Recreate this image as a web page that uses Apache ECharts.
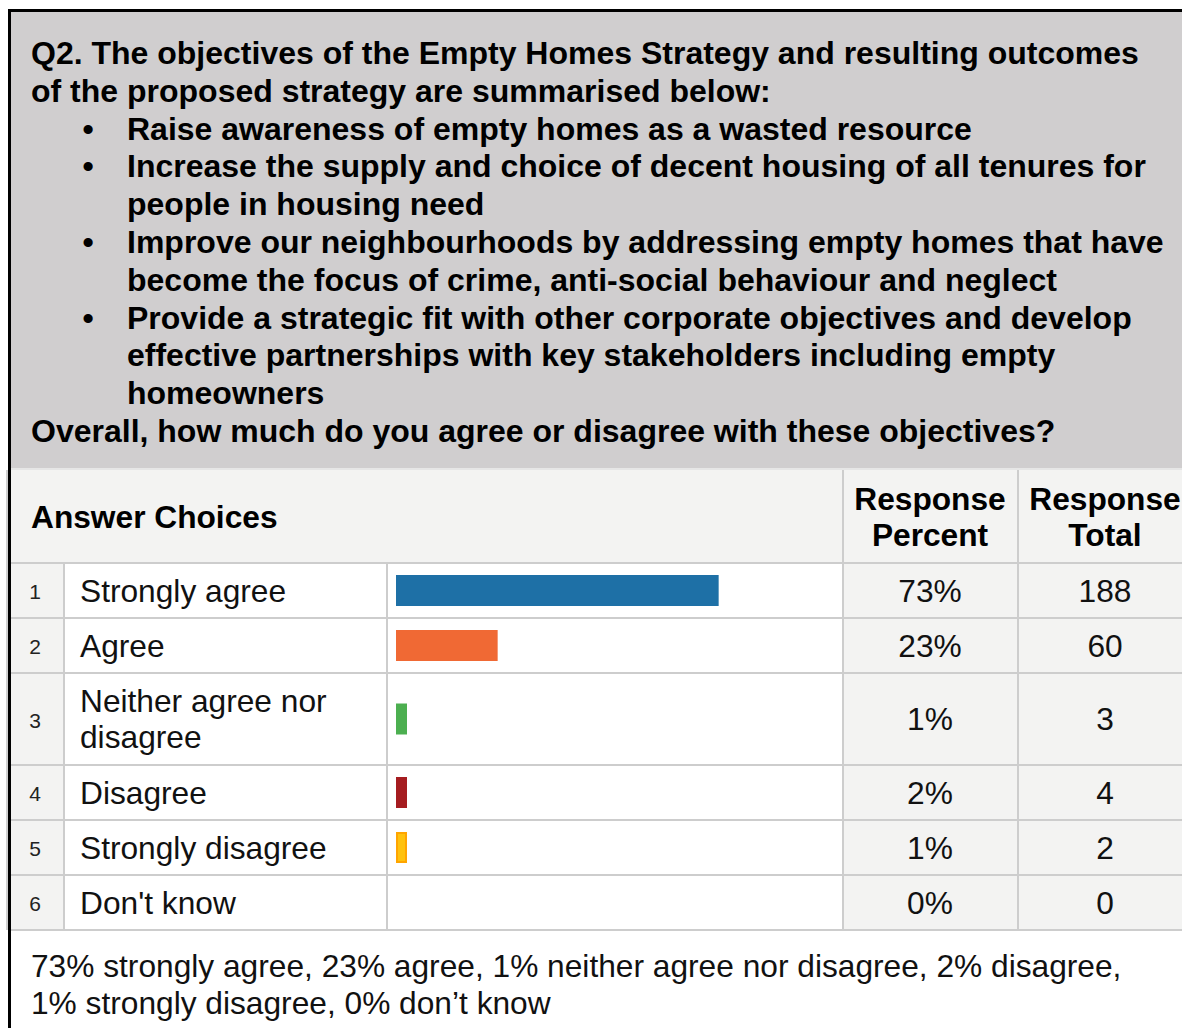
<!DOCTYPE html>
<html>
<head>
<meta charset="utf-8">
<title>Q2 Empty Homes Strategy</title>
<script src="https://cdn.jsdelivr.net/npm/echarts@6/dist/echarts.min.js"></script>
<style>
  html, body { margin: 0; padding: 0; background: #fff; }
  #chart { width: 1182px; height: 1028px; }
</style>
</head>
<body>
<div id="chart"></div>
<script>
// data
const choices = ['Strongly agree', 'Agree', 'Neither agree nor disagree', 'Disagree', 'Strongly disagree', "Don't know"];
const percents = [73, 23, 1, 2, 1, 0];
const totals = [188, 60, 3, 4, 2, 0];
const barColors = ['#1e70a6', '#f06934', '#4caf50', '#a51c20', '#ffc20e', '#cccccc'];

const questionLines = [
  'Q2. The objectives of the Empty Homes Strategy and resulting outcomes',
  'of the proposed strategy are summarised below:'
];
const objectives = [
  ['Raise awareness of empty homes as a wasted resource'],
  ['Increase the supply and choice of decent housing of all tenures for', 'people in housing need'],
  ['Improve our neighbourhoods by addressing empty homes that have', 'become the focus of crime, anti-social behaviour and neglect'],
  ['Provide a strategic fit with other corporate objectives and develop', 'effective partnerships with key stakeholders including empty', 'homeowners']
];
const closingQuestion = 'Overall, how much do you agree or disagree with these objectives?';
const summaryLines = [
  '73% strongly agree, 23% agree, 1% neither agree nor disagree, 2% disagree,',
  '1% strongly disagree, 0% don\u2019t know'
];

const FONT = '"Liberation Sans", Arial, sans-serif';
const FS = 31.7;
const LINE = 37.8;
const seps = [563, 618, 673, 765, 820, 875, 930];

const chart = echarts.init(document.getElementById('chart'), null, { renderer: 'svg' });

const g = [];
function rect(x, y, w, h, fill) {
  g.push({ type: 'rect', silent: true, z: 0, shape: { x, y, width: w, height: h }, style: { fill } });
}
function txt(x, y, text, opts) {
  g.push({
    type: 'text', silent: true, z: 5, x, y,
    style: Object.assign({
      text, font: FS + 'px ' + FONT, fontFamily: FONT, fontSize: FS,
      fill: '#111', textVerticalAlign: 'middle', verticalAlign: 'middle', align: 'left'
    }, opts || {})
  });
}

// question box
rect(11, 12, 1171, 456, '#d0cecf');
// header row
rect(11, 470, 1171, seps[0] - 470, '#f3f3f2');
// body cells
for (let i = 0; i < choices.length; i++) {
  const top = seps[i], h = seps[i + 1] - seps[i];
  rect(11, top, 53, h, '#f3f3f2');
  rect(843, top, 339, h, '#f3f3f2');
}
// grid lines
seps.forEach(y => rect(11, y - 1, 1171, 2, '#cdcdcd'));
rect(11, 468, 1171, 2, '#e6e6e6');
rect(63, seps[0], 2, seps[6] - seps[0], '#cdcdcd');
rect(386, seps[0], 2, seps[6] - seps[0], '#cdcdcd');
rect(842, 470, 2, seps[6] - 470, '#cdcdcd');
rect(1017, 470, 2, seps[6] - 470, '#cdcdcd');
// outer black border
rect(6, 470, 2, seps[6] - 470, '#d0d0d0');
rect(8, 9, 1174, 3, '#000');
rect(8, 9, 3, 1019, '#000');

// question text
const bold = { fontWeight: 'bold', fill: '#000' };
const boldTitle = Object.assign({}, bold, { fontSize: 32, font: 'bold 32px ' + FONT });
let y = 53;
questionLines.forEach(l => { txt(31, y, l, boldTitle); y += LINE; });
objectives.forEach(obj => {
  txt(88, y, '\u2022', Object.assign({}, boldTitle, { align: 'center' }));
  obj.forEach(l => { txt(127, y, l, boldTitle); y += LINE; });
});
txt(31, 431, closingQuestion, boldTitle);

// header text
txt(31, 517, 'Answer Choices', bold);
txt(930, 517, 'Response\nPercent', Object.assign({}, bold, { align: 'center', lineHeight: 36 }));
txt(1105, 517, 'Response\nTotal', Object.assign({}, bold, { align: 'center', lineHeight: 36 }));

// row text
choices.forEach((c, i) => {
  const mid = (seps[i] + seps[i + 1]) / 2;
  txt(35, mid + 1, String(i + 1), { fontSize: 21, font: '21px ' + FONT, align: 'center', fill: '#222' });
  txt(80, mid, c, { width: 300, overflow: 'break', lineHeight: 36 });
  txt(930, mid, percents[i] + '%', { align: 'center' });
  txt(1105, mid, String(totals[i]), { align: 'center' });
});

// summary
summaryLines.forEach((l, i) => txt(31, 966 + i * 36.5, l));

// one grid per table row so bars sit in their own cells
const grids = [], xAxes = [], yAxes = [], series = [];
choices.forEach((c, i) => {
  grids.push({ left: 396, width: 442, top: seps[i] + 1, height: seps[i + 1] - seps[i] - 2, outerBoundsMode: 'none', containLabel: false });
  xAxes.push({ gridIndex: i, type: 'value', min: 0, max: 100, show: false });
  yAxes.push({ gridIndex: i, type: 'category', data: [c], show: false });
  const isYellow = i === 4;
  series.push({
    type: 'bar', xAxisIndex: i, yAxisIndex: i, barWidth: 31,
    barMinHeight: percents[i] > 0 ? 11 : 0,
    data: [percents[i] > 0 ? percents[i] : '-'],
    itemStyle: {
      color: barColors[i],
      borderColor: isYellow ? '#ffa500' : barColors[i],
      borderWidth: isYellow ? 2 : 0
    },
    silent: true, animation: false, z: 3
  });
});

chart.setOption({
  animation: false,
  backgroundColor: '#fff',
  grid: grids,
  xAxis: xAxes,
  yAxis: yAxes,
  series: series,
  graphic: { elements: g }
});
</script>
</body>
</html>
